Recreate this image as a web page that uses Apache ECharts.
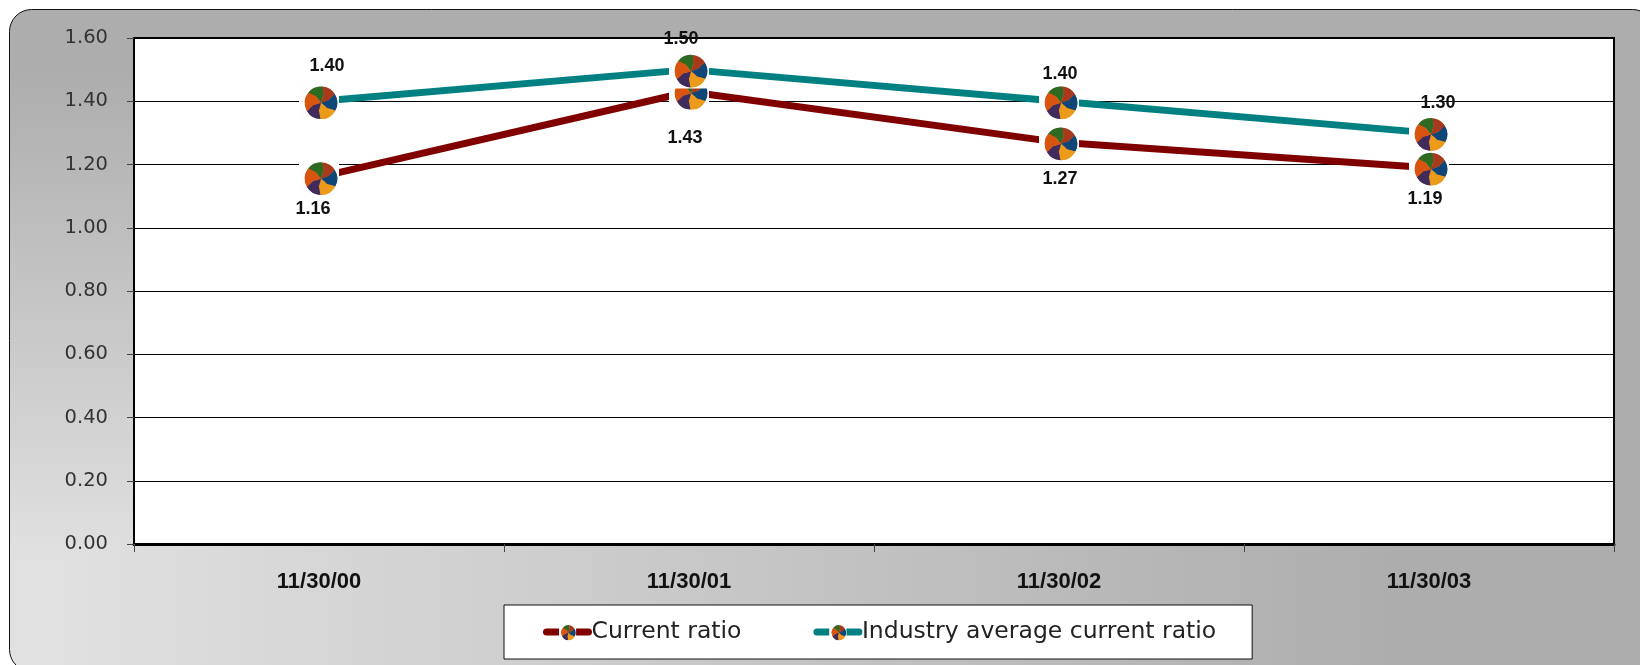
<!DOCTYPE html>
<html>
<head>
<meta charset="utf-8">
<title>Current ratio</title>
<style>
  html, body { margin: 0; padding: 0; background: #ffffff; }
  #chart { width: 1640px; height: 665px; }
</style>
<script src="https://cdn.jsdelivr.net/npm/echarts@6/dist/echarts.min.js"></script>
</head>
<body>
<div id="chart"></div>
<script>
// Chart values
const categories = ['11/30/00', '11/30/01', '11/30/02', '11/30/03'];
const currentRatio = [1.16, 1.43, 1.27, 1.19];
const industryAverage = [1.40, 1.50, 1.40, 1.30];
const seriesNames = ['Current ratio', 'Industry average current ratio'];

// Where each value label sits relative to its marker
const currentLabelOffsets = [[-6, 32], [-4, 46], [1, 37], [-4, 31]];
const industryLabelOffsets = [[8, -35], [-8, -31], [1, -27], [9, -30]];

// Round pinwheel marker on a soft white square, returned as an SVG data URL
const wedges = [
  ['#2f6a22', -52, 6], ['#a8391c', 6, 58], ['#0d4677', 58, 118],
  ['#eb9a1a', 118, 182], ['#3f2b5c', 182, 240], ['#d9540f', 240, 308]
];
function polar(r, deg) {
  const a = (deg - 90) * Math.PI / 180;
  return (22 + r * Math.cos(a)).toFixed(2) + ' ' + (20.5 + r * Math.sin(a)).toFixed(2);
}
function markerUrl() {
  const R = 15.8;
  const paths = wedges.map(function (w) {
    const mid = (w[1] + w[2]) / 2;
    // Each wedge has a bent inner edge and a small tab, like puzzle pieces
    return '<path fill="' + w[0] + '" d="M22 20.5 L' + polar(R * 0.5, w[1] + 14) +
      ' L' + polar(R + 0.5, w[1]) + ' A' + R + ' ' + R + ' 0 0 1 ' + polar(R + 0.5, w[2]) +
      ' L' + polar(R * 0.5, w[2] + 14) + ' L' + polar(R * 0.35, mid + 40) + ' Z"/>';
  }).join('');
  const svg = '<svg xmlns="http://www.w3.org/2000/svg" width="80" height="76" viewBox="0 0 40 38">' +
    '<rect width="40" height="38" fill="#fefefe"/>' +
    '<circle cx="22" cy="20.5" r="16" fill="#c9743a"/>' +
    paths + '</svg>';
  return 'image://data:image/svg+xml;charset=utf-8,' + encodeURIComponent(svg);
}
const marker = markerUrl();

const LABEL_FONT = '"Liberation Sans", Arial, sans-serif';
const BODY_FONT = '"DejaVu Sans", sans-serif';

function seriesData(values, offsets) {
  return values.map(function (v, i) {
    return { value: v, label: { offset: offsets[i] } };
  });
}
function lineSeries(name, values, offsets, color, z) {
  return {
    name: name,
    type: 'line',
    z: z,
    data: seriesData(values, offsets),
    symbol: marker,
    symbolSize: [40, 38],
    showAllSymbol: true,
    smooth: false,
    animation: false,
    lineStyle: { color: color, width: 7, cap: 'round' },
    itemStyle: { color: color },
    label: {
      show: true,
      position: 'inside',
      formatter: function (p) { return p.value.toFixed(2); },
      fontFamily: LABEL_FONT,
      fontWeight: 'bold',
      fontSize: 18,
      color: '#111111'
    }
  };
}

// Panel outline shared by the two shading layers and the border
const panelShape = { x: 9.5, y: 9.5, width: 1645, height: 662, r: 22 };
const LIGHT = '#e1e1e1';
const DARK = '#adadad';
const shadeStops = [{ offset: 0, color: LIGHT }, { offset: 1, color: DARK }];

const chart = echarts.init(document.getElementById('chart'), null, { renderer: 'canvas' });
chart.setOption({
  animation: false,
  backgroundColor: '#ffffff',
  // The panel shades outward from its lower left corner: one layer darkens to
  // the right, the other upward, and the darker of the two shows at each pixel.
  graphic: [
    {
      type: 'rect', z: -12, silent: true, shape: panelShape,
      style: { fill: new echarts.graphic.LinearGradient(40, 0, 1400, 0, shadeStops, true) }
    },
    {
      type: 'rect', z: -11, silent: true, shape: panelShape,
      style: { blend: 'darken', fill: new echarts.graphic.LinearGradient(0, 565, 0, 70, shadeStops, true) }
    },
    {
      type: 'rect', z: -10, silent: true, shape: panelShape,
      style: { fill: 'none', stroke: '#111111', lineWidth: 1 }
    }
  ],
  grid: {
    left: 134,
    right: 26,
    top: 38,
    bottom: 121,
    show: true,
    backgroundColor: '#ffffff',
    borderColor: '#000000',
    borderWidth: 2,
    containLabel: false
  },
  legend: {
    show: true,
    data: seriesNames,
    left: 504,
    top: 605,
    orient: 'horizontal',
    backgroundColor: '#ffffff',
    borderColor: '#111111',
    borderWidth: 1,
    padding: [15, 36, 15, 39],
    itemWidth: 42,
    itemHeight: 22,
    itemGap: 72,
    lineStyle: { width: 7, cap: 'round' },
    textStyle: {
      fontFamily: BODY_FONT,
      fontSize: 23.5,
      color: '#222222',
      padding: [0, 0, 0, -2]
    }
  },
  xAxis: {
    type: 'category',
    data: categories,
    boundaryGap: true,
    axisLine: { show: true, lineStyle: { color: '#000000', width: 3 } },
    axisTick: { show: true, alignWithLabel: false, length: 8, lineStyle: { color: '#444444', width: 1 } },
    axisLabel: {
      margin: 27,
      fontFamily: LABEL_FONT,
      fontWeight: 'bold',
      fontSize: 22,
      color: '#111111'
    },
    splitLine: { show: false }
  },
  yAxis: {
    type: 'value',
    min: 0,
    max: 1.6,
    interval: 0.2,
    axisLine: { show: true, lineStyle: { color: '#000000', width: 2 } },
    axisTick: { show: true, length: 7, lineStyle: { color: '#444444', width: 1 } },
    axisLabel: {
      margin: 26,
      fontFamily: BODY_FONT,
      fontSize: 19.5,
      color: '#333333',
      formatter: function (v) { return v.toFixed(2); }
    },
    splitLine: { show: true, lineStyle: { color: '#000000', width: 1 } }
  },
  series: [
    lineSeries(seriesNames[0], currentRatio, currentLabelOffsets, '#800000', 3),
    lineSeries(seriesNames[1], industryAverage, industryLabelOffsets, '#008080', 4)
  ]
});
</script>
</body>
</html>
